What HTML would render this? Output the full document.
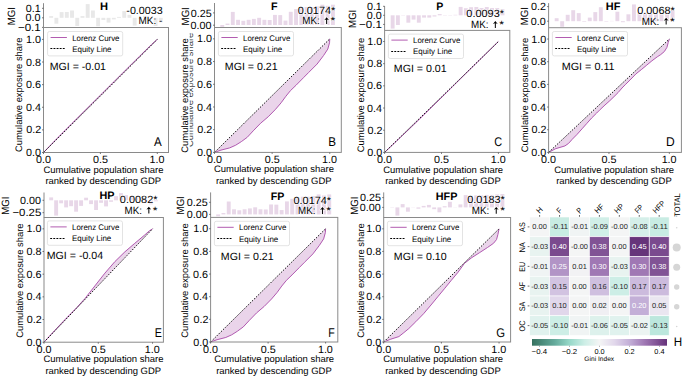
<!DOCTYPE html>
<html><head><meta charset="utf-8"><style>
html,body{margin:0;padding:0;background:#fff;}
svg{display:block;}
text{font-family:"Liberation Sans", sans-serif;text-rendering:geometricPrecision;}
</style></head><body>
<svg width="685" height="377" viewBox="0 0 685 377">
<rect width="685" height="377" fill="#fff"/>
<rect x="49.20" y="16.10" width="3.90" height="1.70" fill="#e8e8e8"/>
<rect x="54.42" y="17.80" width="3.90" height="5.90" fill="#e8e8e8"/>
<rect x="59.64" y="12.10" width="3.90" height="5.70" fill="#e8e8e8"/>
<rect x="64.86" y="12.00" width="3.90" height="5.80" fill="#e8e8e8"/>
<rect x="70.08" y="10.50" width="3.90" height="7.30" fill="#e8e8e8"/>
<rect x="75.30" y="17.80" width="3.90" height="8.20" fill="#e8e8e8"/>
<rect x="80.52" y="16.10" width="3.90" height="1.70" fill="#e8e8e8"/>
<rect x="85.74" y="4.10" width="3.90" height="13.70" fill="#e8e8e8"/>
<rect x="90.96" y="10.50" width="3.90" height="7.30" fill="#e8e8e8"/>
<rect x="96.18" y="17.80" width="3.90" height="8.50" fill="#e8e8e8"/>
<rect x="101.40" y="17.80" width="3.90" height="2.20" fill="#e8e8e8"/>
<rect x="106.62" y="17.80" width="3.90" height="4.80" fill="#e8e8e8"/>
<rect x="111.84" y="17.80" width="3.90" height="1.60" fill="#e8e8e8"/>
<rect x="117.06" y="16.90" width="3.90" height="0.90" fill="#e8e8e8"/>
<rect x="122.28" y="11.10" width="3.90" height="6.70" fill="#e8e8e8"/>
<rect x="127.50" y="14.80" width="3.90" height="3.00" fill="#e8e8e8"/>
<rect x="132.72" y="17.80" width="3.90" height="7.80" fill="#e8e8e8"/>
<rect x="137.94" y="17.80" width="3.90" height="1.00" fill="#e8e8e8"/>
<rect x="143.16" y="15.80" width="3.90" height="2.00" fill="#e8e8e8"/>
<rect x="148.38" y="17.80" width="3.90" height="1.00" fill="#e8e8e8"/>
<rect x="153.60" y="17.80" width="3.90" height="8.20" fill="#e8e8e8"/>
<rect x="158.82" y="17.80" width="3.90" height="4.50" fill="#e8e8e8"/>
<line x1="43.50" y1="3.20" x2="43.50" y2="27.50" stroke="#8a8a8a" stroke-width="1.0"/>
<line x1="42.00" y1="8.30" x2="43.50" y2="8.30" stroke="#555" stroke-width="0.8"/>
<text x="25.82" y="11.90" font-size="10.53" fill="#000" textLength="14.95" lengthAdjust="spacingAndGlyphs">0.1</text>
<line x1="42.00" y1="17.80" x2="43.50" y2="17.80" stroke="#555" stroke-width="0.8"/>
<text x="25.58" y="21.40" font-size="10.53" fill="#000" textLength="14.95" lengthAdjust="spacingAndGlyphs">0.0</text>
<line x1="42.00" y1="27.40" x2="43.50" y2="27.40" stroke="#555" stroke-width="0.8"/>
<text x="17.94" y="31.00" font-size="10.53" fill="#000" textLength="22.83" lengthAdjust="spacingAndGlyphs">−0.1</text>
<path d="M43.50,152.50 L54.88,140.62 L71.95,123.43 L100.40,95.16 L128.85,66.88 L151.61,44.38 L157.30,39.40 L43.50,152.50 Z" fill="#800080" fill-opacity="0.17" stroke="none"/>
<path d="M43.50,152.50 L54.88,140.62 L71.95,123.43 L100.40,95.16 L128.85,66.88 L151.61,44.38 L157.30,39.40" fill="none" stroke="#a848a8" stroke-width="0.9" stroke-linejoin="round"/>
<line x1="43.50" y1="152.50" x2="157.30" y2="39.40" stroke="#000" stroke-width="0.9" stroke-dasharray="1.5 1.4"/>
<rect x="43.50" y="27.50" width="125.00" height="125.00" fill="none" stroke="#8a8a8a" stroke-width="1.0"/>
<line x1="42.00" y1="152.50" x2="43.50" y2="152.50" stroke="#555" stroke-width="0.8"/>
<text x="26.08" y="156.10" font-size="10.53" fill="#000" textLength="14.95" lengthAdjust="spacingAndGlyphs">0.0</text>
<line x1="42.00" y1="129.88" x2="43.50" y2="129.88" stroke="#555" stroke-width="0.8"/>
<text x="26.39" y="133.48" font-size="10.53" fill="#000" textLength="14.95" lengthAdjust="spacingAndGlyphs">0.2</text>
<line x1="42.00" y1="107.26" x2="43.50" y2="107.26" stroke="#555" stroke-width="0.8"/>
<text x="25.98" y="110.86" font-size="10.53" fill="#000" textLength="14.95" lengthAdjust="spacingAndGlyphs">0.4</text>
<line x1="42.00" y1="84.64" x2="43.50" y2="84.64" stroke="#555" stroke-width="0.8"/>
<text x="26.04" y="88.24" font-size="10.53" fill="#000" textLength="14.95" lengthAdjust="spacingAndGlyphs">0.6</text>
<line x1="42.00" y1="62.02" x2="43.50" y2="62.02" stroke="#555" stroke-width="0.8"/>
<text x="26.09" y="65.62" font-size="10.53" fill="#000" textLength="14.95" lengthAdjust="spacingAndGlyphs">0.8</text>
<line x1="42.00" y1="39.40" x2="43.50" y2="39.40" stroke="#555" stroke-width="0.8"/>
<text x="26.08" y="43.00" font-size="10.53" fill="#000" textLength="14.95" lengthAdjust="spacingAndGlyphs">1.0</text>
<line x1="43.50" y1="152.50" x2="43.50" y2="154.00" stroke="#555" stroke-width="0.8"/>
<text x="36.03" y="163.20" font-size="10.53" fill="#000" textLength="14.95" lengthAdjust="spacingAndGlyphs">0.0</text>
<line x1="100.40" y1="152.50" x2="100.40" y2="154.00" stroke="#555" stroke-width="0.8"/>
<text x="93.03" y="163.20" font-size="10.53" fill="#000" textLength="14.95" lengthAdjust="spacingAndGlyphs">0.5</text>
<line x1="157.30" y1="152.50" x2="157.30" y2="154.00" stroke="#555" stroke-width="0.8"/>
<text x="149.62" y="163.20" font-size="10.53" fill="#000" textLength="14.95" lengthAdjust="spacingAndGlyphs">1.0</text>
<text x="43.53" y="172.50" font-size="9.41" fill="#000" textLength="119.91" lengthAdjust="spacingAndGlyphs">Cumulative population share</text>
<text x="45.48" y="184.10" font-size="9.41" fill="#000" textLength="115.56" lengthAdjust="spacingAndGlyphs">ranked by descending GDP</text>
<text transform="translate(22.40,151.50) rotate(-90)" x="-0.47" y="0" font-size="9.41" fill="#000" textLength="114.41" lengthAdjust="spacingAndGlyphs">Cumulative exposure share</text>
<rect x="47.60" y="31.50" width="75.1" height="24.4" rx="1.8" fill="#fff" fill-opacity="0.85" stroke="#dcdcdc" stroke-width="0.8"/>
<line x1="50.60" y1="37.50" x2="66.90" y2="37.50" stroke="#b25cb0" stroke-width="1.0"/>
<line x1="50.40" y1="48.50" x2="65.60" y2="48.50" stroke="#000" stroke-width="1.0" stroke-dasharray="1.9 1.2"/>
<text x="72.20" y="40.60" font-size="8.18" fill="#000" textLength="47.28" lengthAdjust="spacingAndGlyphs">Lorenz Curve</text>
<text x="72.21" y="51.70" font-size="8.18" fill="#000" textLength="39.27" lengthAdjust="spacingAndGlyphs">Equity Line</text>
<text x="49.68" y="70.00" font-size="10.53" fill="#000" textLength="56.34" lengthAdjust="spacingAndGlyphs">MGI = -0.01</text>
<text x="153.96" y="145.70" font-size="12.66" fill="#000" textLength="7.73" lengthAdjust="spacingAndGlyphs">A</text>
<text x="100.03" y="9.70" font-size="10.75" font-weight="bold" fill="#000" textLength="8.03" lengthAdjust="spacingAndGlyphs">H</text>
<text x="126.37" y="13.70" font-size="10.53" fill="#000" textLength="36.28" lengthAdjust="spacingAndGlyphs" stroke="#fff" stroke-opacity="0.7" stroke-width="1.6" stroke-linejoin="round" paint-order="stroke">-0.0033</text>
<text x="138.54" y="24.10" font-size="10.53" fill="#000" textLength="23.82" lengthAdjust="spacingAndGlyphs" stroke="#fff" stroke-opacity="0.7" stroke-width="1.6" stroke-linejoin="round" paint-order="stroke">MK: -</text>
<text transform="translate(15.40,16.20) rotate(-90)" x="-9.08" y="0" font-size="10.53" fill="#000" textLength="18.17" lengthAdjust="spacingAndGlyphs">MGI</text>
<rect x="220.30" y="25.00" width="3.90" height="1.90" fill="#e8d7e8"/>
<rect x="225.57" y="23.60" width="3.90" height="1.40" fill="#e8d7e8"/>
<rect x="230.84" y="11.90" width="3.90" height="13.10" fill="#e8d7e8"/>
<rect x="236.11" y="19.80" width="3.90" height="5.20" fill="#e8d7e8"/>
<rect x="241.38" y="20.80" width="3.90" height="4.20" fill="#e8d7e8"/>
<rect x="246.65" y="19.80" width="3.90" height="5.20" fill="#e8d7e8"/>
<rect x="251.92" y="18.90" width="3.90" height="6.10" fill="#e8d7e8"/>
<rect x="257.19" y="17.80" width="3.90" height="7.20" fill="#e8d7e8"/>
<rect x="262.46" y="19.80" width="3.90" height="5.20" fill="#e8d7e8"/>
<rect x="267.73" y="20.00" width="3.90" height="5.00" fill="#e8d7e8"/>
<rect x="273.00" y="14.90" width="3.90" height="10.10" fill="#e8d7e8"/>
<rect x="278.27" y="15.10" width="3.90" height="9.90" fill="#e8d7e8"/>
<rect x="283.54" y="20.60" width="3.90" height="4.40" fill="#e8d7e8"/>
<rect x="288.81" y="11.80" width="3.90" height="13.20" fill="#e8d7e8"/>
<rect x="294.08" y="9.10" width="3.90" height="15.90" fill="#e8d7e8"/>
<rect x="299.35" y="7.50" width="3.90" height="17.50" fill="#e8d7e8"/>
<rect x="304.62" y="7.00" width="3.90" height="18.00" fill="#e8d7e8"/>
<rect x="309.89" y="7.00" width="3.90" height="18.00" fill="#e8d7e8"/>
<rect x="315.16" y="6.30" width="3.90" height="18.70" fill="#e8d7e8"/>
<rect x="320.43" y="4.70" width="3.90" height="20.30" fill="#e8d7e8"/>
<rect x="325.70" y="5.80" width="3.90" height="19.20" fill="#e8d7e8"/>
<rect x="330.97" y="4.70" width="3.90" height="20.30" fill="#e8d7e8"/>
<line x1="214.50" y1="3.00" x2="214.50" y2="27.50" stroke="#8a8a8a" stroke-width="1.0"/>
<line x1="213.00" y1="12.90" x2="214.50" y2="12.90" stroke="#555" stroke-width="0.8"/>
<text x="190.79" y="16.50" font-size="10.53" fill="#000" textLength="20.93" lengthAdjust="spacingAndGlyphs">0.25</text>
<line x1="213.00" y1="25.20" x2="214.50" y2="25.20" stroke="#555" stroke-width="0.8"/>
<text x="190.59" y="28.80" font-size="10.53" fill="#000" textLength="20.93" lengthAdjust="spacingAndGlyphs">0.00</text>
<path d="M214.50,152.40 L220.96,150.13 L229.72,147.86 L235.59,145.25 L241.36,141.61 L247.24,137.30 L253.23,130.83 L260.61,123.22 L268.22,116.75 L275.59,109.25 L281.13,102.78 L285.85,96.31 L290.46,90.63 L296.11,85.18 L303.49,77.69 L308.56,72.58 L317.09,64.06 L323.55,55.55 L327.81,49.07 L329.54,42.72 L329.77,38.85 L214.50,152.40 Z" fill="#800080" fill-opacity="0.17" stroke="none"/>
<path d="M214.50,152.40 L220.96,150.13 L229.72,147.86 L235.59,145.25 L241.36,141.61 L247.24,137.30 L253.23,130.83 L260.61,123.22 L268.22,116.75 L275.59,109.25 L281.13,102.78 L285.85,96.31 L290.46,90.63 L296.11,85.18 L303.49,77.69 L308.56,72.58 L317.09,64.06 L323.55,55.55 L327.81,49.07 L329.54,42.72 L329.77,38.85" fill="none" stroke="#a848a8" stroke-width="0.9" stroke-linejoin="round"/>
<line x1="214.50" y1="152.40" x2="329.77" y2="38.85" stroke="#000" stroke-width="0.9" stroke-dasharray="1.5 1.4"/>
<rect x="214.50" y="27.50" width="126.80" height="124.90" fill="none" stroke="#8a8a8a" stroke-width="1.0"/>
<line x1="213.00" y1="152.40" x2="214.50" y2="152.40" stroke="#555" stroke-width="0.8"/>
<text x="197.08" y="156.00" font-size="10.53" fill="#000" textLength="14.95" lengthAdjust="spacingAndGlyphs">0.0</text>
<line x1="213.00" y1="129.69" x2="214.50" y2="129.69" stroke="#555" stroke-width="0.8"/>
<text x="197.39" y="133.29" font-size="10.53" fill="#000" textLength="14.95" lengthAdjust="spacingAndGlyphs">0.2</text>
<line x1="213.00" y1="106.98" x2="214.50" y2="106.98" stroke="#555" stroke-width="0.8"/>
<text x="196.98" y="110.58" font-size="10.53" fill="#000" textLength="14.95" lengthAdjust="spacingAndGlyphs">0.4</text>
<line x1="213.00" y1="84.27" x2="214.50" y2="84.27" stroke="#555" stroke-width="0.8"/>
<text x="197.04" y="87.87" font-size="10.53" fill="#000" textLength="14.95" lengthAdjust="spacingAndGlyphs">0.6</text>
<line x1="213.00" y1="61.56" x2="214.50" y2="61.56" stroke="#555" stroke-width="0.8"/>
<text x="197.09" y="65.16" font-size="10.53" fill="#000" textLength="14.95" lengthAdjust="spacingAndGlyphs">0.8</text>
<line x1="213.00" y1="38.85" x2="214.50" y2="38.85" stroke="#555" stroke-width="0.8"/>
<text x="197.08" y="42.45" font-size="10.53" fill="#000" textLength="14.95" lengthAdjust="spacingAndGlyphs">1.0</text>
<line x1="214.50" y1="152.40" x2="214.50" y2="153.90" stroke="#555" stroke-width="0.8"/>
<text x="207.03" y="163.10" font-size="10.53" fill="#000" textLength="14.95" lengthAdjust="spacingAndGlyphs">0.0</text>
<line x1="272.14" y1="152.40" x2="272.14" y2="153.90" stroke="#555" stroke-width="0.8"/>
<text x="264.76" y="163.10" font-size="10.53" fill="#000" textLength="14.95" lengthAdjust="spacingAndGlyphs">0.5</text>
<line x1="329.77" y1="152.40" x2="329.77" y2="153.90" stroke="#555" stroke-width="0.8"/>
<text x="322.09" y="163.10" font-size="10.53" fill="#000" textLength="14.95" lengthAdjust="spacingAndGlyphs">1.0</text>
<text x="214.03" y="172.40" font-size="9.41" fill="#000" textLength="119.91" lengthAdjust="spacingAndGlyphs">Cumulative population share</text>
<text x="215.98" y="184.00" font-size="9.41" fill="#000" textLength="115.56" lengthAdjust="spacingAndGlyphs">ranked by descending GDP</text>
<text transform="translate(188.10,152.20) rotate(-90)" x="-0.47" y="0" font-size="9.41" fill="#000" textLength="114.41" lengthAdjust="spacingAndGlyphs">Cumulative exposure share</text>
<clipPath id="ghc"><rect x="189.7" y="0" width="8" height="377"/></clipPath>
<g clip-path="url(#ghc)">
<text transform="translate(193.40,146.60) rotate(-90)" x="-0.47" y="0" font-size="9.41" fill="#444" textLength="114.41" lengthAdjust="spacingAndGlyphs">Cumulative exposure share</text>
</g>
<rect x="218.40" y="31.50" width="75.1" height="24.4" rx="1.8" fill="#fff" fill-opacity="0.85" stroke="#dcdcdc" stroke-width="0.8"/>
<line x1="221.40" y1="37.50" x2="237.70" y2="37.50" stroke="#b25cb0" stroke-width="1.0"/>
<line x1="221.20" y1="48.50" x2="236.40" y2="48.50" stroke="#000" stroke-width="1.0" stroke-dasharray="1.9 1.2"/>
<text x="243.00" y="40.60" font-size="8.18" fill="#000" textLength="47.28" lengthAdjust="spacingAndGlyphs">Lorenz Curve</text>
<text x="243.01" y="51.70" font-size="8.18" fill="#000" textLength="39.27" lengthAdjust="spacingAndGlyphs">Equity Line</text>
<text x="224.78" y="69.80" font-size="10.53" fill="#000" textLength="52.95" lengthAdjust="spacingAndGlyphs">MGI = 0.21</text>
<text x="328.15" y="145.70" font-size="12.66" fill="#000" textLength="7.75" lengthAdjust="spacingAndGlyphs">B</text>
<text x="271.08" y="9.70" font-size="10.75" font-weight="bold" fill="#000" textLength="6.56" lengthAdjust="spacingAndGlyphs">F</text>
<text x="297.69" y="13.70" font-size="10.53" fill="#000" textLength="37.59" lengthAdjust="spacingAndGlyphs" stroke="#fff" stroke-opacity="0.7" stroke-width="1.6" stroke-linejoin="round" paint-order="stroke">0.0174*</text>
<text x="302.27" y="24.10" font-size="10.53" fill="#000" textLength="17.44" lengthAdjust="spacingAndGlyphs" stroke="#fff" stroke-opacity="0.7" stroke-width="1.6" stroke-linejoin="round" paint-order="stroke">MK:</text>
<text x="330.58" y="24.10" font-size="10.53" fill="#000" textLength="4.70" lengthAdjust="spacingAndGlyphs" stroke="#fff" stroke-opacity="0.7" stroke-width="1.6" stroke-linejoin="round" paint-order="stroke">*</text>
<path d="M324.24,20.20 L326.64,17.30 L329.04,20.20 L327.14,19.50 L327.14,24.10 L326.14,24.10 L326.14,19.50 Z" fill="#000" stroke="#fff" stroke-opacity="0.7" stroke-width="1.6" stroke-linejoin="round" paint-order="stroke"/>
<text transform="translate(188.60,16.30) rotate(-90)" x="-9.08" y="0" font-size="10.53" fill="#000" textLength="18.17" lengthAdjust="spacingAndGlyphs">MGI</text>
<rect x="390.70" y="15.30" width="3.90" height="13.30" fill="#e8d7e8"/>
<rect x="395.93" y="15.30" width="3.90" height="9.70" fill="#e8d7e8"/>
<rect x="401.16" y="15.30" width="3.90" height="0.30" fill="#e8d7e8"/>
<rect x="406.39" y="15.30" width="3.90" height="7.40" fill="#e8d7e8"/>
<rect x="411.62" y="15.30" width="3.90" height="4.30" fill="#e8d7e8"/>
<rect x="416.85" y="15.30" width="3.90" height="7.40" fill="#e8d7e8"/>
<rect x="422.08" y="15.30" width="3.90" height="2.30" fill="#e8d7e8"/>
<rect x="427.31" y="15.30" width="3.90" height="2.30" fill="#e8d7e8"/>
<rect x="432.54" y="15.30" width="3.90" height="1.20" fill="#e8d7e8"/>
<rect x="437.77" y="14.10" width="3.90" height="1.20" fill="#e8d7e8"/>
<rect x="443.00" y="15.00" width="3.90" height="0.30" fill="#e8d7e8"/>
<rect x="448.23" y="15.00" width="3.90" height="0.30" fill="#e8d7e8"/>
<rect x="453.46" y="14.80" width="3.90" height="0.50" fill="#e8d7e8"/>
<rect x="458.69" y="6.90" width="3.90" height="8.40" fill="#e8d7e8"/>
<rect x="463.92" y="8.20" width="3.90" height="7.10" fill="#e8d7e8"/>
<rect x="469.15" y="7.20" width="3.90" height="8.10" fill="#e8d7e8"/>
<rect x="474.38" y="7.00" width="3.90" height="8.30" fill="#e8d7e8"/>
<rect x="479.61" y="8.00" width="3.90" height="7.30" fill="#e8d7e8"/>
<rect x="484.84" y="7.00" width="3.90" height="8.30" fill="#e8d7e8"/>
<rect x="490.07" y="8.00" width="3.90" height="7.30" fill="#e8d7e8"/>
<rect x="495.30" y="8.00" width="3.90" height="7.30" fill="#e8d7e8"/>
<rect x="500.53" y="9.20" width="3.90" height="6.10" fill="#e8d7e8"/>
<line x1="384.60" y1="6.10" x2="384.60" y2="30.40" stroke="#8a8a8a" stroke-width="1.0"/>
<line x1="383.10" y1="6.30" x2="384.60" y2="6.30" stroke="#555" stroke-width="0.8"/>
<text x="366.92" y="9.90" font-size="10.53" fill="#000" textLength="14.95" lengthAdjust="spacingAndGlyphs">0.1</text>
<line x1="383.10" y1="15.30" x2="384.60" y2="15.30" stroke="#555" stroke-width="0.8"/>
<text x="366.68" y="18.90" font-size="10.53" fill="#000" textLength="14.95" lengthAdjust="spacingAndGlyphs">0.0</text>
<line x1="383.10" y1="24.40" x2="384.60" y2="24.40" stroke="#555" stroke-width="0.8"/>
<text x="359.04" y="28.00" font-size="10.53" fill="#000" textLength="22.83" lengthAdjust="spacingAndGlyphs">−0.1</text>
<path d="M384.60,152.40 L401.67,136.21 L418.75,119.90 L435.82,103.16 L452.89,86.30 L469.96,69.44 L498.42,41.49 L384.60,152.40 Z" fill="#800080" fill-opacity="0.17" stroke="none"/>
<path d="M384.60,152.40 L401.67,136.21 L418.75,119.90 L435.82,103.16 L452.89,86.30 L469.96,69.44 L498.42,41.49" fill="none" stroke="#a848a8" stroke-width="0.9" stroke-linejoin="round"/>
<line x1="384.60" y1="152.40" x2="498.42" y2="41.49" stroke="#000" stroke-width="0.9" stroke-dasharray="1.5 1.4"/>
<rect x="384.60" y="30.40" width="125.20" height="122.00" fill="none" stroke="#8a8a8a" stroke-width="1.0"/>
<line x1="383.10" y1="152.40" x2="384.60" y2="152.40" stroke="#555" stroke-width="0.8"/>
<text x="367.18" y="156.00" font-size="10.53" fill="#000" textLength="14.95" lengthAdjust="spacingAndGlyphs">0.0</text>
<line x1="383.10" y1="130.22" x2="384.60" y2="130.22" stroke="#555" stroke-width="0.8"/>
<text x="367.49" y="133.82" font-size="10.53" fill="#000" textLength="14.95" lengthAdjust="spacingAndGlyphs">0.2</text>
<line x1="383.10" y1="108.04" x2="384.60" y2="108.04" stroke="#555" stroke-width="0.8"/>
<text x="367.08" y="111.64" font-size="10.53" fill="#000" textLength="14.95" lengthAdjust="spacingAndGlyphs">0.4</text>
<line x1="383.10" y1="85.85" x2="384.60" y2="85.85" stroke="#555" stroke-width="0.8"/>
<text x="367.14" y="89.45" font-size="10.53" fill="#000" textLength="14.95" lengthAdjust="spacingAndGlyphs">0.6</text>
<line x1="383.10" y1="63.67" x2="384.60" y2="63.67" stroke="#555" stroke-width="0.8"/>
<text x="367.19" y="67.27" font-size="10.53" fill="#000" textLength="14.95" lengthAdjust="spacingAndGlyphs">0.8</text>
<line x1="383.10" y1="41.49" x2="384.60" y2="41.49" stroke="#555" stroke-width="0.8"/>
<text x="367.18" y="45.09" font-size="10.53" fill="#000" textLength="14.95" lengthAdjust="spacingAndGlyphs">1.0</text>
<line x1="384.60" y1="152.40" x2="384.60" y2="153.90" stroke="#555" stroke-width="0.8"/>
<text x="377.13" y="163.10" font-size="10.53" fill="#000" textLength="14.95" lengthAdjust="spacingAndGlyphs">0.0</text>
<line x1="441.51" y1="152.40" x2="441.51" y2="153.90" stroke="#555" stroke-width="0.8"/>
<text x="434.14" y="163.10" font-size="10.53" fill="#000" textLength="14.95" lengthAdjust="spacingAndGlyphs">0.5</text>
<line x1="498.42" y1="152.40" x2="498.42" y2="153.90" stroke="#555" stroke-width="0.8"/>
<text x="490.74" y="163.10" font-size="10.53" fill="#000" textLength="14.95" lengthAdjust="spacingAndGlyphs">1.0</text>
<text x="383.23" y="172.50" font-size="9.41" fill="#000" textLength="119.91" lengthAdjust="spacingAndGlyphs">Cumulative population share</text>
<text x="385.18" y="184.10" font-size="9.41" fill="#000" textLength="115.56" lengthAdjust="spacingAndGlyphs">ranked by descending GDP</text>
<text transform="translate(364.40,151.70) rotate(-90)" x="-0.47" y="0" font-size="9.41" fill="#000" textLength="114.41" lengthAdjust="spacingAndGlyphs">Cumulative exposure share</text>
<rect x="388.40" y="34.10" width="75.1" height="24.4" rx="1.8" fill="#fff" fill-opacity="0.85" stroke="#dcdcdc" stroke-width="0.8"/>
<line x1="391.40" y1="40.10" x2="407.70" y2="40.10" stroke="#b25cb0" stroke-width="1.0"/>
<line x1="391.20" y1="51.50" x2="406.40" y2="51.50" stroke="#000" stroke-width="1.0" stroke-dasharray="1.9 1.2"/>
<text x="413.00" y="43.20" font-size="8.18" fill="#000" textLength="47.28" lengthAdjust="spacingAndGlyphs">Lorenz Curve</text>
<text x="413.01" y="54.30" font-size="8.18" fill="#000" textLength="39.27" lengthAdjust="spacingAndGlyphs">Equity Line</text>
<text x="393.78" y="71.80" font-size="10.53" fill="#000" textLength="52.95" lengthAdjust="spacingAndGlyphs">MGI = 0.01</text>
<text x="494.22" y="145.80" font-size="12.66" fill="#000" textLength="7.89" lengthAdjust="spacingAndGlyphs">C</text>
<text x="436.24" y="9.70" font-size="10.75" font-weight="bold" fill="#000" textLength="7.04" lengthAdjust="spacingAndGlyphs">P</text>
<text x="466.39" y="16.50" font-size="10.53" fill="#000" textLength="37.59" lengthAdjust="spacingAndGlyphs" stroke="#fff" stroke-opacity="0.7" stroke-width="1.6" stroke-linejoin="round" paint-order="stroke">0.0093*</text>
<text x="470.97" y="27.90" font-size="10.53" fill="#000" textLength="17.44" lengthAdjust="spacingAndGlyphs" stroke="#fff" stroke-opacity="0.7" stroke-width="1.6" stroke-linejoin="round" paint-order="stroke">MK:</text>
<text x="499.28" y="27.90" font-size="10.53" fill="#000" textLength="4.70" lengthAdjust="spacingAndGlyphs" stroke="#fff" stroke-opacity="0.7" stroke-width="1.6" stroke-linejoin="round" paint-order="stroke">*</text>
<path d="M492.94,24.00 L495.34,21.10 L497.74,24.00 L495.84,23.30 L495.84,27.90 L494.84,27.90 L494.84,23.30 Z" fill="#000" stroke="#fff" stroke-opacity="0.7" stroke-width="1.6" stroke-linejoin="round" paint-order="stroke"/>
<text transform="translate(356.20,18.80) rotate(-90)" x="-9.08" y="0" font-size="10.53" fill="#000" textLength="18.17" lengthAdjust="spacingAndGlyphs">MGI</text>
<rect x="554.70" y="18.20" width="3.90" height="3.00" fill="#e8d7e8"/>
<rect x="560.22" y="21.20" width="3.90" height="5.60" fill="#e8d7e8"/>
<rect x="565.74" y="14.80" width="3.90" height="6.40" fill="#e8d7e8"/>
<rect x="571.26" y="10.20" width="3.90" height="11.00" fill="#e8d7e8"/>
<rect x="576.78" y="13.10" width="3.90" height="8.10" fill="#e8d7e8"/>
<rect x="582.30" y="21.20" width="3.90" height="0.60" fill="#e8d7e8"/>
<rect x="587.82" y="17.60" width="3.90" height="3.60" fill="#e8d7e8"/>
<rect x="593.34" y="12.10" width="3.90" height="9.10" fill="#e8d7e8"/>
<rect x="598.86" y="7.20" width="3.90" height="14.00" fill="#e8d7e8"/>
<rect x="604.38" y="21.20" width="3.90" height="0.50" fill="#e8d7e8"/>
<rect x="609.90" y="20.90" width="3.90" height="0.30" fill="#e8d7e8"/>
<rect x="615.42" y="11.70" width="3.90" height="9.50" fill="#e8d7e8"/>
<rect x="620.94" y="21.20" width="3.90" height="1.00" fill="#e8d7e8"/>
<rect x="626.46" y="14.30" width="3.90" height="6.90" fill="#e8d7e8"/>
<rect x="631.98" y="4.40" width="3.90" height="16.80" fill="#e8d7e8"/>
<rect x="637.50" y="12.20" width="3.90" height="9.00" fill="#e8d7e8"/>
<rect x="643.02" y="12.70" width="3.90" height="8.50" fill="#e8d7e8"/>
<rect x="648.54" y="12.70" width="3.90" height="8.50" fill="#e8d7e8"/>
<rect x="654.06" y="13.20" width="3.90" height="8.00" fill="#e8d7e8"/>
<rect x="659.58" y="12.70" width="3.90" height="8.50" fill="#e8d7e8"/>
<rect x="665.10" y="12.20" width="3.90" height="9.00" fill="#e8d7e8"/>
<rect x="670.62" y="9.80" width="3.90" height="11.40" fill="#e8d7e8"/>
<line x1="548.60" y1="3.10" x2="548.60" y2="27.70" stroke="#8a8a8a" stroke-width="1.0"/>
<line x1="547.10" y1="6.60" x2="548.60" y2="6.60" stroke="#555" stroke-width="0.8"/>
<text x="530.99" y="10.20" font-size="10.53" fill="#000" textLength="14.95" lengthAdjust="spacingAndGlyphs">0.2</text>
<line x1="547.10" y1="21.20" x2="548.60" y2="21.20" stroke="#555" stroke-width="0.8"/>
<text x="530.68" y="24.80" font-size="10.53" fill="#000" textLength="14.95" lengthAdjust="spacingAndGlyphs">0.0</text>
<path d="M548.60,152.40 L555.72,148.66 L559.95,147.41 L564.90,145.94 L568.52,143.44 L572.26,139.25 L577.09,134.38 L582.04,128.82 L586.87,123.38 L591.70,117.94 L596.65,113.06 L600.15,109.55 L604.98,105.01 L609.81,100.71 L613.91,96.74 L618.14,92.54 L622.00,88.01 L625.26,84.72 L629.97,80.07 L636.01,73.84 L641.32,69.64 L646.75,65.11 L651.94,60.80 L657.25,56.83 L660.63,54.68 L664.38,51.51 L666.91,47.43 L668.24,42.44 L669.33,39.04 L548.60,152.40 Z" fill="#800080" fill-opacity="0.17" stroke="none"/>
<path d="M548.60,152.40 L555.72,148.66 L559.95,147.41 L564.90,145.94 L568.52,143.44 L572.26,139.25 L577.09,134.38 L582.04,128.82 L586.87,123.38 L591.70,117.94 L596.65,113.06 L600.15,109.55 L604.98,105.01 L609.81,100.71 L613.91,96.74 L618.14,92.54 L622.00,88.01 L625.26,84.72 L629.97,80.07 L636.01,73.84 L641.32,69.64 L646.75,65.11 L651.94,60.80 L657.25,56.83 L660.63,54.68 L664.38,51.51 L666.91,47.43 L668.24,42.44 L669.33,39.04" fill="none" stroke="#a848a8" stroke-width="0.9" stroke-linejoin="round"/>
<line x1="548.60" y1="152.40" x2="669.33" y2="39.04" stroke="#000" stroke-width="0.9" stroke-dasharray="1.5 1.4"/>
<rect x="548.60" y="27.70" width="132.80" height="124.70" fill="none" stroke="#8a8a8a" stroke-width="1.0"/>
<line x1="547.10" y1="152.40" x2="548.60" y2="152.40" stroke="#555" stroke-width="0.8"/>
<text x="531.18" y="156.00" font-size="10.53" fill="#000" textLength="14.95" lengthAdjust="spacingAndGlyphs">0.0</text>
<line x1="547.10" y1="129.73" x2="548.60" y2="129.73" stroke="#555" stroke-width="0.8"/>
<text x="531.49" y="133.33" font-size="10.53" fill="#000" textLength="14.95" lengthAdjust="spacingAndGlyphs">0.2</text>
<line x1="547.10" y1="107.05" x2="548.60" y2="107.05" stroke="#555" stroke-width="0.8"/>
<text x="531.08" y="110.65" font-size="10.53" fill="#000" textLength="14.95" lengthAdjust="spacingAndGlyphs">0.4</text>
<line x1="547.10" y1="84.38" x2="548.60" y2="84.38" stroke="#555" stroke-width="0.8"/>
<text x="531.14" y="87.98" font-size="10.53" fill="#000" textLength="14.95" lengthAdjust="spacingAndGlyphs">0.6</text>
<line x1="547.10" y1="61.71" x2="548.60" y2="61.71" stroke="#555" stroke-width="0.8"/>
<text x="531.19" y="65.31" font-size="10.53" fill="#000" textLength="14.95" lengthAdjust="spacingAndGlyphs">0.8</text>
<line x1="547.10" y1="39.04" x2="548.60" y2="39.04" stroke="#555" stroke-width="0.8"/>
<text x="531.18" y="42.64" font-size="10.53" fill="#000" textLength="14.95" lengthAdjust="spacingAndGlyphs">1.0</text>
<line x1="548.60" y1="152.40" x2="548.60" y2="153.90" stroke="#555" stroke-width="0.8"/>
<text x="541.13" y="163.10" font-size="10.53" fill="#000" textLength="14.95" lengthAdjust="spacingAndGlyphs">0.0</text>
<line x1="608.96" y1="152.40" x2="608.96" y2="153.90" stroke="#555" stroke-width="0.8"/>
<text x="601.59" y="163.10" font-size="10.53" fill="#000" textLength="14.95" lengthAdjust="spacingAndGlyphs">0.5</text>
<line x1="669.33" y1="152.40" x2="669.33" y2="153.90" stroke="#555" stroke-width="0.8"/>
<text x="661.65" y="163.10" font-size="10.53" fill="#000" textLength="14.95" lengthAdjust="spacingAndGlyphs">1.0</text>
<text x="554.23" y="172.50" font-size="9.41" fill="#000" textLength="119.91" lengthAdjust="spacingAndGlyphs">Cumulative population share</text>
<text x="556.18" y="184.10" font-size="9.41" fill="#000" textLength="115.56" lengthAdjust="spacingAndGlyphs">ranked by descending GDP</text>
<text transform="translate(527.80,151.80) rotate(-90)" x="-0.47" y="0" font-size="9.41" fill="#000" textLength="114.41" lengthAdjust="spacingAndGlyphs">Cumulative exposure share</text>
<rect x="552.40" y="31.50" width="75.1" height="24.4" rx="1.8" fill="#fff" fill-opacity="0.85" stroke="#dcdcdc" stroke-width="0.8"/>
<line x1="555.40" y1="37.50" x2="571.70" y2="37.50" stroke="#b25cb0" stroke-width="1.0"/>
<line x1="555.20" y1="48.50" x2="570.40" y2="48.50" stroke="#000" stroke-width="1.0" stroke-dasharray="1.9 1.2"/>
<text x="577.00" y="40.60" font-size="8.18" fill="#000" textLength="47.28" lengthAdjust="spacingAndGlyphs">Lorenz Curve</text>
<text x="577.01" y="51.70" font-size="8.18" fill="#000" textLength="39.27" lengthAdjust="spacingAndGlyphs">Equity Line</text>
<text x="561.68" y="69.80" font-size="10.53" fill="#000" textLength="52.95" lengthAdjust="spacingAndGlyphs">MGI = 0.11</text>
<text x="665.97" y="145.80" font-size="12.66" fill="#000" textLength="8.70" lengthAdjust="spacingAndGlyphs">D</text>
<text x="605.87" y="9.90" font-size="10.75" font-weight="bold" fill="#000" textLength="14.59" lengthAdjust="spacingAndGlyphs">HF</text>
<text x="637.19" y="14.10" font-size="10.53" fill="#000" textLength="37.59" lengthAdjust="spacingAndGlyphs" stroke="#fff" stroke-opacity="0.7" stroke-width="1.6" stroke-linejoin="round" paint-order="stroke">0.0068*</text>
<text x="641.77" y="24.60" font-size="10.53" fill="#000" textLength="17.44" lengthAdjust="spacingAndGlyphs" stroke="#fff" stroke-opacity="0.7" stroke-width="1.6" stroke-linejoin="round" paint-order="stroke">MK:</text>
<text x="670.08" y="24.60" font-size="10.53" fill="#000" textLength="4.70" lengthAdjust="spacingAndGlyphs" stroke="#fff" stroke-opacity="0.7" stroke-width="1.6" stroke-linejoin="round" paint-order="stroke">*</text>
<path d="M663.74,20.70 L666.14,17.80 L668.54,20.70 L666.64,20.00 L666.64,24.60 L665.64,24.60 L665.64,20.00 Z" fill="#000" stroke="#fff" stroke-opacity="0.7" stroke-width="1.6" stroke-linejoin="round" paint-order="stroke"/>
<text transform="translate(528.20,16.20) rotate(-90)" x="-9.08" y="0" font-size="10.53" fill="#000" textLength="18.17" lengthAdjust="spacingAndGlyphs">MGI</text>
<rect x="49.20" y="197.40" width="3.90" height="2.90" fill="#e8d7e8"/>
<rect x="54.19" y="200.30" width="3.90" height="15.30" fill="#e8d7e8"/>
<rect x="59.18" y="200.30" width="3.90" height="3.00" fill="#e8d7e8"/>
<rect x="64.17" y="200.30" width="3.90" height="7.10" fill="#e8d7e8"/>
<rect x="69.16" y="200.30" width="3.90" height="5.90" fill="#e8d7e8"/>
<rect x="74.15" y="200.30" width="3.90" height="11.40" fill="#e8d7e8"/>
<rect x="79.14" y="200.30" width="3.90" height="5.60" fill="#e8d7e8"/>
<rect x="84.13" y="197.70" width="3.90" height="2.60" fill="#e8d7e8"/>
<rect x="89.12" y="200.30" width="3.90" height="3.80" fill="#e8d7e8"/>
<rect x="94.11" y="200.30" width="3.90" height="9.70" fill="#e8d7e8"/>
<rect x="99.10" y="200.30" width="3.90" height="2.50" fill="#e8d7e8"/>
<rect x="104.09" y="200.30" width="3.90" height="6.10" fill="#e8d7e8"/>
<rect x="109.08" y="200.30" width="3.90" height="1.50" fill="#e8d7e8"/>
<rect x="114.07" y="196.20" width="3.90" height="4.10" fill="#e8d7e8"/>
<rect x="119.06" y="193.10" width="3.90" height="7.20" fill="#e8d7e8"/>
<rect x="124.05" y="195.10" width="3.90" height="5.20" fill="#e8d7e8"/>
<rect x="129.04" y="196.30" width="3.90" height="4.00" fill="#e8d7e8"/>
<rect x="134.03" y="197.30" width="3.90" height="3.00" fill="#e8d7e8"/>
<rect x="139.02" y="197.30" width="3.90" height="3.00" fill="#e8d7e8"/>
<rect x="144.01" y="200.30" width="3.90" height="2.00" fill="#e8d7e8"/>
<rect x="149.00" y="200.30" width="3.90" height="4.00" fill="#e8d7e8"/>
<rect x="153.99" y="200.30" width="3.90" height="1.00" fill="#e8d7e8"/>
<line x1="44.00" y1="192.50" x2="44.00" y2="217.50" stroke="#8a8a8a" stroke-width="1.0"/>
<line x1="42.50" y1="200.30" x2="44.00" y2="200.30" stroke="#555" stroke-width="0.8"/>
<text x="20.09" y="203.90" font-size="10.53" fill="#000" textLength="20.93" lengthAdjust="spacingAndGlyphs">0.00</text>
<line x1="42.50" y1="212.70" x2="44.00" y2="212.70" stroke="#555" stroke-width="0.8"/>
<text x="12.42" y="216.30" font-size="10.53" fill="#000" textLength="28.81" lengthAdjust="spacingAndGlyphs">−0.25</text>
<path d="M44.00,342.20 L54.85,330.30 L65.71,318.85 L76.56,307.85 L85.03,298.44 L94.91,285.86 L104.89,273.16 L114.88,261.60 L124.87,251.85 L134.74,243.35 L144.73,234.96 L149.29,230.88 L152.55,228.84 L44.00,342.20 Z" fill="#800080" fill-opacity="0.17" stroke="none"/>
<path d="M44.00,342.20 L54.85,330.30 L65.71,318.85 L76.56,307.85 L85.03,298.44 L94.91,285.86 L104.89,273.16 L114.88,261.60 L124.87,251.85 L134.74,243.35 L144.73,234.96 L149.29,230.88 L152.55,228.84" fill="none" stroke="#a848a8" stroke-width="0.9" stroke-linejoin="round"/>
<line x1="44.00" y1="342.20" x2="152.55" y2="228.84" stroke="#000" stroke-width="0.9" stroke-dasharray="1.5 1.4"/>
<rect x="44.00" y="217.50" width="119.40" height="124.70" fill="none" stroke="#8a8a8a" stroke-width="1.0"/>
<line x1="42.50" y1="342.20" x2="44.00" y2="342.20" stroke="#555" stroke-width="0.8"/>
<text x="26.58" y="345.80" font-size="10.53" fill="#000" textLength="14.95" lengthAdjust="spacingAndGlyphs">0.0</text>
<line x1="42.50" y1="319.53" x2="44.00" y2="319.53" stroke="#555" stroke-width="0.8"/>
<text x="26.89" y="323.13" font-size="10.53" fill="#000" textLength="14.95" lengthAdjust="spacingAndGlyphs">0.2</text>
<line x1="42.50" y1="296.85" x2="44.00" y2="296.85" stroke="#555" stroke-width="0.8"/>
<text x="26.48" y="300.45" font-size="10.53" fill="#000" textLength="14.95" lengthAdjust="spacingAndGlyphs">0.4</text>
<line x1="42.50" y1="274.18" x2="44.00" y2="274.18" stroke="#555" stroke-width="0.8"/>
<text x="26.54" y="277.78" font-size="10.53" fill="#000" textLength="14.95" lengthAdjust="spacingAndGlyphs">0.6</text>
<line x1="42.50" y1="251.51" x2="44.00" y2="251.51" stroke="#555" stroke-width="0.8"/>
<text x="26.59" y="255.11" font-size="10.53" fill="#000" textLength="14.95" lengthAdjust="spacingAndGlyphs">0.8</text>
<line x1="42.50" y1="228.84" x2="44.00" y2="228.84" stroke="#555" stroke-width="0.8"/>
<text x="26.58" y="232.44" font-size="10.53" fill="#000" textLength="14.95" lengthAdjust="spacingAndGlyphs">1.0</text>
<line x1="44.00" y1="342.20" x2="44.00" y2="343.70" stroke="#555" stroke-width="0.8"/>
<text x="36.53" y="352.90" font-size="10.53" fill="#000" textLength="14.95" lengthAdjust="spacingAndGlyphs">0.0</text>
<line x1="98.27" y1="342.20" x2="98.27" y2="343.70" stroke="#555" stroke-width="0.8"/>
<text x="90.90" y="352.90" font-size="10.53" fill="#000" textLength="14.95" lengthAdjust="spacingAndGlyphs">0.5</text>
<line x1="152.55" y1="342.20" x2="152.55" y2="343.70" stroke="#555" stroke-width="0.8"/>
<text x="144.87" y="352.90" font-size="10.53" fill="#000" textLength="14.95" lengthAdjust="spacingAndGlyphs">1.0</text>
<text x="43.53" y="362.30" font-size="9.41" fill="#000" textLength="119.91" lengthAdjust="spacingAndGlyphs">Cumulative population share</text>
<text x="45.48" y="373.90" font-size="9.41" fill="#000" textLength="115.56" lengthAdjust="spacingAndGlyphs">ranked by descending GDP</text>
<text transform="translate(22.60,337.40) rotate(-90)" x="-0.47" y="0" font-size="9.41" fill="#000" textLength="114.41" lengthAdjust="spacingAndGlyphs">Cumulative exposure share</text>
<rect x="47.40" y="220.90" width="75.1" height="24.4" rx="1.8" fill="#fff" fill-opacity="0.85" stroke="#dcdcdc" stroke-width="0.8"/>
<line x1="50.40" y1="226.90" x2="66.70" y2="226.90" stroke="#b25cb0" stroke-width="1.0"/>
<line x1="50.20" y1="238.50" x2="65.40" y2="238.50" stroke="#000" stroke-width="1.0" stroke-dasharray="1.9 1.2"/>
<text x="72.00" y="230.00" font-size="8.18" fill="#000" textLength="47.28" lengthAdjust="spacingAndGlyphs">Lorenz Curve</text>
<text x="72.01" y="241.10" font-size="8.18" fill="#000" textLength="39.27" lengthAdjust="spacingAndGlyphs">Equity Line</text>
<text x="46.78" y="259.10" font-size="10.53" fill="#000" textLength="56.34" lengthAdjust="spacingAndGlyphs">MGI = -0.04</text>
<text x="154.68" y="336.50" font-size="12.66" fill="#000" textLength="7.14" lengthAdjust="spacingAndGlyphs">E</text>
<text x="99.42" y="199.20" font-size="10.75" font-weight="bold" fill="#000" textLength="15.07" lengthAdjust="spacingAndGlyphs">HP</text>
<text x="119.89" y="203.30" font-size="10.53" fill="#000" textLength="37.59" lengthAdjust="spacingAndGlyphs" stroke="#fff" stroke-opacity="0.7" stroke-width="1.6" stroke-linejoin="round" paint-order="stroke">0.0082*</text>
<text x="124.47" y="213.50" font-size="10.53" fill="#000" textLength="17.44" lengthAdjust="spacingAndGlyphs" stroke="#fff" stroke-opacity="0.7" stroke-width="1.6" stroke-linejoin="round" paint-order="stroke">MK:</text>
<text x="152.78" y="213.50" font-size="10.53" fill="#000" textLength="4.70" lengthAdjust="spacingAndGlyphs" stroke="#fff" stroke-opacity="0.7" stroke-width="1.6" stroke-linejoin="round" paint-order="stroke">*</text>
<path d="M146.44,209.60 L148.84,206.70 L151.24,209.60 L149.34,208.90 L149.34,213.50 L148.34,213.50 L148.34,208.90 Z" fill="#000" stroke="#fff" stroke-opacity="0.7" stroke-width="1.6" stroke-linejoin="round" paint-order="stroke"/>
<text transform="translate(9.30,205.70) rotate(-90)" x="-9.08" y="0" font-size="10.53" fill="#000" textLength="18.17" lengthAdjust="spacingAndGlyphs">MGI</text>
<rect x="216.20" y="214.40" width="3.90" height="1.87" fill="#e8d7e8"/>
<rect x="221.49" y="213.02" width="3.90" height="1.38" fill="#e8d7e8"/>
<rect x="226.78" y="201.51" width="3.90" height="12.89" fill="#e8d7e8"/>
<rect x="232.07" y="209.28" width="3.90" height="5.12" fill="#e8d7e8"/>
<rect x="237.36" y="210.27" width="3.90" height="4.13" fill="#e8d7e8"/>
<rect x="242.65" y="209.28" width="3.90" height="5.12" fill="#e8d7e8"/>
<rect x="247.94" y="208.40" width="3.90" height="6.00" fill="#e8d7e8"/>
<rect x="253.23" y="207.32" width="3.90" height="7.08" fill="#e8d7e8"/>
<rect x="258.52" y="209.28" width="3.90" height="5.12" fill="#e8d7e8"/>
<rect x="263.81" y="209.48" width="3.90" height="4.92" fill="#e8d7e8"/>
<rect x="269.10" y="204.46" width="3.90" height="9.94" fill="#e8d7e8"/>
<rect x="274.39" y="204.66" width="3.90" height="9.74" fill="#e8d7e8"/>
<rect x="279.68" y="210.07" width="3.90" height="4.33" fill="#e8d7e8"/>
<rect x="284.97" y="201.41" width="3.90" height="12.99" fill="#e8d7e8"/>
<rect x="290.26" y="198.76" width="3.90" height="15.64" fill="#e8d7e8"/>
<rect x="295.55" y="197.18" width="3.90" height="17.22" fill="#e8d7e8"/>
<rect x="300.84" y="196.69" width="3.90" height="17.71" fill="#e8d7e8"/>
<rect x="306.13" y="196.69" width="3.90" height="17.71" fill="#e8d7e8"/>
<rect x="311.42" y="196.00" width="3.90" height="18.40" fill="#e8d7e8"/>
<rect x="316.71" y="194.43" width="3.90" height="19.97" fill="#e8d7e8"/>
<rect x="322.00" y="195.51" width="3.90" height="18.89" fill="#e8d7e8"/>
<rect x="327.29" y="194.43" width="3.90" height="19.97" fill="#e8d7e8"/>
<line x1="210.60" y1="192.40" x2="210.60" y2="217.40" stroke="#8a8a8a" stroke-width="1.0"/>
<line x1="209.10" y1="202.30" x2="210.60" y2="202.30" stroke="#555" stroke-width="0.8"/>
<text x="186.89" y="205.90" font-size="10.53" fill="#000" textLength="20.93" lengthAdjust="spacingAndGlyphs">0.25</text>
<line x1="209.10" y1="214.40" x2="210.60" y2="214.40" stroke="#555" stroke-width="0.8"/>
<text x="186.69" y="218.00" font-size="10.53" fill="#000" textLength="20.93" lengthAdjust="spacingAndGlyphs">0.00</text>
<path d="M210.60,342.00 L217.04,339.73 L225.78,337.47 L231.64,334.86 L237.39,331.24 L243.26,326.93 L249.24,320.48 L256.60,312.89 L264.19,306.43 L271.55,298.96 L277.07,292.50 L281.78,286.04 L286.38,280.38 L292.02,274.94 L299.38,267.47 L304.44,262.37 L312.95,253.87 L319.39,245.38 L323.64,238.92 L325.37,232.58 L325.60,228.73 L210.60,342.00 Z" fill="#800080" fill-opacity="0.17" stroke="none"/>
<path d="M210.60,342.00 L217.04,339.73 L225.78,337.47 L231.64,334.86 L237.39,331.24 L243.26,326.93 L249.24,320.48 L256.60,312.89 L264.19,306.43 L271.55,298.96 L277.07,292.50 L281.78,286.04 L286.38,280.38 L292.02,274.94 L299.38,267.47 L304.44,262.37 L312.95,253.87 L319.39,245.38 L323.64,238.92 L325.37,232.58 L325.60,228.73" fill="none" stroke="#a848a8" stroke-width="0.9" stroke-linejoin="round"/>
<line x1="210.60" y1="342.00" x2="325.60" y2="228.73" stroke="#000" stroke-width="0.9" stroke-dasharray="1.5 1.4"/>
<rect x="210.60" y="217.40" width="127.20" height="124.60" fill="none" stroke="#8a8a8a" stroke-width="1.0"/>
<line x1="209.10" y1="342.00" x2="210.60" y2="342.00" stroke="#555" stroke-width="0.8"/>
<text x="193.18" y="345.60" font-size="10.53" fill="#000" textLength="14.95" lengthAdjust="spacingAndGlyphs">0.0</text>
<line x1="209.10" y1="319.35" x2="210.60" y2="319.35" stroke="#555" stroke-width="0.8"/>
<text x="193.49" y="322.95" font-size="10.53" fill="#000" textLength="14.95" lengthAdjust="spacingAndGlyphs">0.2</text>
<line x1="209.10" y1="296.69" x2="210.60" y2="296.69" stroke="#555" stroke-width="0.8"/>
<text x="193.08" y="300.29" font-size="10.53" fill="#000" textLength="14.95" lengthAdjust="spacingAndGlyphs">0.4</text>
<line x1="209.10" y1="274.04" x2="210.60" y2="274.04" stroke="#555" stroke-width="0.8"/>
<text x="193.14" y="277.64" font-size="10.53" fill="#000" textLength="14.95" lengthAdjust="spacingAndGlyphs">0.6</text>
<line x1="209.10" y1="251.38" x2="210.60" y2="251.38" stroke="#555" stroke-width="0.8"/>
<text x="193.19" y="254.98" font-size="10.53" fill="#000" textLength="14.95" lengthAdjust="spacingAndGlyphs">0.8</text>
<line x1="209.10" y1="228.73" x2="210.60" y2="228.73" stroke="#555" stroke-width="0.8"/>
<text x="193.18" y="232.33" font-size="10.53" fill="#000" textLength="14.95" lengthAdjust="spacingAndGlyphs">1.0</text>
<line x1="210.60" y1="342.00" x2="210.60" y2="343.50" stroke="#555" stroke-width="0.8"/>
<text x="203.13" y="352.70" font-size="10.53" fill="#000" textLength="14.95" lengthAdjust="spacingAndGlyphs">0.0</text>
<line x1="268.10" y1="342.00" x2="268.10" y2="343.50" stroke="#555" stroke-width="0.8"/>
<text x="260.73" y="352.70" font-size="10.53" fill="#000" textLength="14.95" lengthAdjust="spacingAndGlyphs">0.5</text>
<line x1="325.60" y1="342.00" x2="325.60" y2="343.50" stroke="#555" stroke-width="0.8"/>
<text x="317.92" y="352.70" font-size="10.53" fill="#000" textLength="14.95" lengthAdjust="spacingAndGlyphs">1.0</text>
<text x="214.23" y="362.30" font-size="9.41" fill="#000" textLength="119.91" lengthAdjust="spacingAndGlyphs">Cumulative population share</text>
<text x="216.18" y="373.90" font-size="9.41" fill="#000" textLength="115.56" lengthAdjust="spacingAndGlyphs">ranked by descending GDP</text>
<text transform="translate(188.10,337.20) rotate(-90)" x="-0.47" y="0" font-size="9.41" fill="#000" textLength="114.41" lengthAdjust="spacingAndGlyphs">Cumulative exposure share</text>
<rect x="214.40" y="221.30" width="75.1" height="24.4" rx="1.8" fill="#fff" fill-opacity="0.85" stroke="#dcdcdc" stroke-width="0.8"/>
<line x1="217.40" y1="227.30" x2="233.70" y2="227.30" stroke="#b25cb0" stroke-width="1.0"/>
<line x1="217.20" y1="238.50" x2="232.40" y2="238.50" stroke="#000" stroke-width="1.0" stroke-dasharray="1.9 1.2"/>
<text x="239.00" y="230.40" font-size="8.18" fill="#000" textLength="47.28" lengthAdjust="spacingAndGlyphs">Lorenz Curve</text>
<text x="239.01" y="241.50" font-size="8.18" fill="#000" textLength="39.27" lengthAdjust="spacingAndGlyphs">Equity Line</text>
<text x="220.78" y="259.50" font-size="10.53" fill="#000" textLength="52.95" lengthAdjust="spacingAndGlyphs">MGI = 0.21</text>
<text x="328.36" y="336.50" font-size="12.66" fill="#000" textLength="6.50" lengthAdjust="spacingAndGlyphs">F</text>
<text x="270.86" y="199.90" font-size="10.75" font-weight="bold" fill="#000" textLength="13.59" lengthAdjust="spacingAndGlyphs">FP</text>
<text x="293.49" y="203.70" font-size="10.53" fill="#000" textLength="37.59" lengthAdjust="spacingAndGlyphs" stroke="#fff" stroke-opacity="0.7" stroke-width="1.6" stroke-linejoin="round" paint-order="stroke">0.0174*</text>
<text x="298.07" y="213.90" font-size="10.53" fill="#000" textLength="17.44" lengthAdjust="spacingAndGlyphs" stroke="#fff" stroke-opacity="0.7" stroke-width="1.6" stroke-linejoin="round" paint-order="stroke">MK:</text>
<text x="326.38" y="213.90" font-size="10.53" fill="#000" textLength="4.70" lengthAdjust="spacingAndGlyphs" stroke="#fff" stroke-opacity="0.7" stroke-width="1.6" stroke-linejoin="round" paint-order="stroke">*</text>
<path d="M320.04,210.00 L322.44,207.10 L324.84,210.00 L322.94,209.30 L322.94,213.90 L321.94,213.90 L321.94,209.30 Z" fill="#000" stroke="#fff" stroke-opacity="0.7" stroke-width="1.6" stroke-linejoin="round" paint-order="stroke"/>
<text transform="translate(183.90,205.30) rotate(-90)" x="-9.08" y="0" font-size="10.53" fill="#000" textLength="18.17" lengthAdjust="spacingAndGlyphs">MGI</text>
<rect x="390.20" y="207.10" width="3.90" height="0.30" fill="#e8d7e8"/>
<rect x="395.45" y="207.40" width="3.90" height="8.20" fill="#e8d7e8"/>
<rect x="400.70" y="204.10" width="3.90" height="3.30" fill="#e8d7e8"/>
<rect x="405.95" y="207.40" width="3.90" height="4.30" fill="#e8d7e8"/>
<rect x="411.20" y="207.20" width="3.90" height="0.20" fill="#e8d7e8"/>
<rect x="416.45" y="207.40" width="3.90" height="1.30" fill="#e8d7e8"/>
<rect x="421.70" y="205.90" width="3.90" height="1.50" fill="#e8d7e8"/>
<rect x="426.95" y="204.90" width="3.90" height="2.50" fill="#e8d7e8"/>
<rect x="432.20" y="207.40" width="3.90" height="1.80" fill="#e8d7e8"/>
<rect x="437.45" y="207.40" width="3.90" height="4.90" fill="#e8d7e8"/>
<rect x="442.70" y="206.20" width="3.90" height="1.20" fill="#e8d7e8"/>
<rect x="447.95" y="201.80" width="3.90" height="5.60" fill="#e8d7e8"/>
<rect x="453.20" y="207.20" width="3.90" height="0.20" fill="#e8d7e8"/>
<rect x="458.45" y="204.40" width="3.90" height="3.00" fill="#e8d7e8"/>
<rect x="463.70" y="195.10" width="3.90" height="12.30" fill="#e8d7e8"/>
<rect x="468.95" y="195.70" width="3.90" height="11.70" fill="#e8d7e8"/>
<rect x="474.20" y="195.40" width="3.90" height="12.00" fill="#e8d7e8"/>
<rect x="479.45" y="195.40" width="3.90" height="12.00" fill="#e8d7e8"/>
<rect x="484.70" y="194.90" width="3.90" height="12.50" fill="#e8d7e8"/>
<rect x="489.95" y="194.90" width="3.90" height="12.50" fill="#e8d7e8"/>
<rect x="495.20" y="194.40" width="3.90" height="13.00" fill="#e8d7e8"/>
<rect x="500.45" y="194.00" width="3.90" height="13.40" fill="#e8d7e8"/>
<line x1="383.70" y1="192.40" x2="383.70" y2="217.50" stroke="#8a8a8a" stroke-width="1.0"/>
<line x1="382.20" y1="197.60" x2="383.70" y2="197.60" stroke="#555" stroke-width="0.8"/>
<text x="359.99" y="201.20" font-size="10.53" fill="#000" textLength="20.93" lengthAdjust="spacingAndGlyphs">0.25</text>
<line x1="382.20" y1="207.40" x2="383.70" y2="207.40" stroke="#555" stroke-width="0.8"/>
<text x="359.79" y="211.00" font-size="10.53" fill="#000" textLength="20.93" lengthAdjust="spacingAndGlyphs">0.00</text>
<path d="M383.70,342.00 L390.85,339.17 L398.93,336.57 L403.89,332.61 L408.73,328.64 L415.77,321.74 L423.62,313.70 L431.00,304.99 L438.27,296.16 L444.84,288.24 L451.42,280.20 L458.11,272.17 L464.45,263.34 L471.72,257.68 L479.68,252.59 L487.53,247.49 L493.53,243.31 L496.53,239.57 L497.91,234.48 L499.06,228.82 L383.70,342.00 Z" fill="#800080" fill-opacity="0.17" stroke="none"/>
<path d="M383.70,342.00 L390.85,339.17 L398.93,336.57 L403.89,332.61 L408.73,328.64 L415.77,321.74 L423.62,313.70 L431.00,304.99 L438.27,296.16 L444.84,288.24 L451.42,280.20 L458.11,272.17 L464.45,263.34 L471.72,257.68 L479.68,252.59 L487.53,247.49 L493.53,243.31 L496.53,239.57 L497.91,234.48 L499.06,228.82" fill="none" stroke="#a848a8" stroke-width="0.9" stroke-linejoin="round"/>
<line x1="383.70" y1="342.00" x2="499.06" y2="228.82" stroke="#000" stroke-width="0.9" stroke-dasharray="1.5 1.4"/>
<rect x="383.70" y="217.50" width="126.90" height="124.50" fill="none" stroke="#8a8a8a" stroke-width="1.0"/>
<line x1="382.20" y1="342.00" x2="383.70" y2="342.00" stroke="#555" stroke-width="0.8"/>
<text x="366.28" y="345.60" font-size="10.53" fill="#000" textLength="14.95" lengthAdjust="spacingAndGlyphs">0.0</text>
<line x1="382.20" y1="319.36" x2="383.70" y2="319.36" stroke="#555" stroke-width="0.8"/>
<text x="366.59" y="322.96" font-size="10.53" fill="#000" textLength="14.95" lengthAdjust="spacingAndGlyphs">0.2</text>
<line x1="382.20" y1="296.73" x2="383.70" y2="296.73" stroke="#555" stroke-width="0.8"/>
<text x="366.18" y="300.33" font-size="10.53" fill="#000" textLength="14.95" lengthAdjust="spacingAndGlyphs">0.4</text>
<line x1="382.20" y1="274.09" x2="383.70" y2="274.09" stroke="#555" stroke-width="0.8"/>
<text x="366.24" y="277.69" font-size="10.53" fill="#000" textLength="14.95" lengthAdjust="spacingAndGlyphs">0.6</text>
<line x1="382.20" y1="251.45" x2="383.70" y2="251.45" stroke="#555" stroke-width="0.8"/>
<text x="366.29" y="255.05" font-size="10.53" fill="#000" textLength="14.95" lengthAdjust="spacingAndGlyphs">0.8</text>
<line x1="382.20" y1="228.82" x2="383.70" y2="228.82" stroke="#555" stroke-width="0.8"/>
<text x="366.28" y="232.42" font-size="10.53" fill="#000" textLength="14.95" lengthAdjust="spacingAndGlyphs">1.0</text>
<line x1="383.70" y1="342.00" x2="383.70" y2="343.50" stroke="#555" stroke-width="0.8"/>
<text x="376.23" y="352.70" font-size="10.53" fill="#000" textLength="14.95" lengthAdjust="spacingAndGlyphs">0.0</text>
<line x1="441.38" y1="342.00" x2="441.38" y2="343.50" stroke="#555" stroke-width="0.8"/>
<text x="434.01" y="352.70" font-size="10.53" fill="#000" textLength="14.95" lengthAdjust="spacingAndGlyphs">0.5</text>
<line x1="499.06" y1="342.00" x2="499.06" y2="343.50" stroke="#555" stroke-width="0.8"/>
<text x="491.38" y="352.70" font-size="10.53" fill="#000" textLength="14.95" lengthAdjust="spacingAndGlyphs">1.0</text>
<text x="383.23" y="362.30" font-size="9.41" fill="#000" textLength="119.91" lengthAdjust="spacingAndGlyphs">Cumulative population share</text>
<text x="385.18" y="373.90" font-size="9.41" fill="#000" textLength="115.56" lengthAdjust="spacingAndGlyphs">ranked by descending GDP</text>
<text transform="translate(364.40,337.20) rotate(-90)" x="-0.47" y="0" font-size="9.41" fill="#000" textLength="114.41" lengthAdjust="spacingAndGlyphs">Cumulative exposure share</text>
<rect x="387.40" y="221.30" width="75.1" height="24.4" rx="1.8" fill="#fff" fill-opacity="0.85" stroke="#dcdcdc" stroke-width="0.8"/>
<line x1="390.40" y1="227.30" x2="406.70" y2="227.30" stroke="#b25cb0" stroke-width="1.0"/>
<line x1="390.20" y1="238.50" x2="405.40" y2="238.50" stroke="#000" stroke-width="1.0" stroke-dasharray="1.9 1.2"/>
<text x="412.00" y="230.40" font-size="8.18" fill="#000" textLength="47.28" lengthAdjust="spacingAndGlyphs">Lorenz Curve</text>
<text x="412.01" y="241.50" font-size="8.18" fill="#000" textLength="39.27" lengthAdjust="spacingAndGlyphs">Equity Line</text>
<text x="393.78" y="259.50" font-size="10.53" fill="#000" textLength="52.95" lengthAdjust="spacingAndGlyphs">MGI = 0.10</text>
<text x="496.37" y="336.60" font-size="12.66" fill="#000" textLength="8.76" lengthAdjust="spacingAndGlyphs">G</text>
<text x="435.74" y="199.80" font-size="10.75" font-weight="bold" fill="#000" textLength="21.63" lengthAdjust="spacingAndGlyphs">HFP</text>
<text x="467.29" y="202.80" font-size="10.53" fill="#000" textLength="37.59" lengthAdjust="spacingAndGlyphs" stroke="#fff" stroke-opacity="0.7" stroke-width="1.6" stroke-linejoin="round" paint-order="stroke">0.0183*</text>
<text x="471.87" y="213.70" font-size="10.53" fill="#000" textLength="17.44" lengthAdjust="spacingAndGlyphs" stroke="#fff" stroke-opacity="0.7" stroke-width="1.6" stroke-linejoin="round" paint-order="stroke">MK:</text>
<text x="500.18" y="213.70" font-size="10.53" fill="#000" textLength="4.70" lengthAdjust="spacingAndGlyphs" stroke="#fff" stroke-opacity="0.7" stroke-width="1.6" stroke-linejoin="round" paint-order="stroke">*</text>
<path d="M493.84,209.80 L496.24,206.90 L498.64,209.80 L496.74,209.10 L496.74,213.70 L495.74,213.70 L495.74,209.10 Z" fill="#000" stroke="#fff" stroke-opacity="0.7" stroke-width="1.6" stroke-linejoin="round" paint-order="stroke"/>
<text transform="translate(357.50,205.60) rotate(-90)" x="-9.08" y="0" font-size="10.53" fill="#000" textLength="18.17" lengthAdjust="spacingAndGlyphs">MGI</text>
<rect x="529.65" y="217.00" width="19.93" height="19.75" fill="#f4f5f5" stroke="#fff" stroke-width="0.6"/>
<rect x="549.58" y="217.00" width="19.93" height="19.75" fill="#c8ece3" stroke="#fff" stroke-width="0.6"/>
<rect x="569.51" y="217.00" width="19.93" height="19.75" fill="#f0f4f4" stroke="#fff" stroke-width="0.6"/>
<rect x="589.44" y="217.00" width="19.93" height="19.75" fill="#d1efe8" stroke="#fff" stroke-width="0.6"/>
<rect x="609.37" y="217.00" width="19.93" height="19.75" fill="#f4f5f5" stroke="#fff" stroke-width="0.6"/>
<rect x="629.30" y="217.00" width="19.93" height="19.75" fill="#d5efe9" stroke="#fff" stroke-width="0.6"/>
<rect x="649.23" y="217.00" width="19.93" height="19.75" fill="#c8ece3" stroke="#fff" stroke-width="0.6"/>
<rect x="529.65" y="236.75" width="19.93" height="19.75" fill="#e8f3f0" stroke="#fff" stroke-width="0.6"/>
<rect x="549.58" y="236.75" width="19.93" height="19.75" fill="#7a4a8e" stroke="#fff" stroke-width="0.6"/>
<rect x="569.51" y="236.75" width="19.93" height="19.75" fill="#f4f5f5" stroke="#fff" stroke-width="0.6"/>
<rect x="589.44" y="236.75" width="19.93" height="19.75" fill="#815395" stroke="#fff" stroke-width="0.6"/>
<rect x="609.37" y="236.75" width="19.93" height="19.75" fill="#f4f5f5" stroke="#fff" stroke-width="0.6"/>
<rect x="629.30" y="236.75" width="19.93" height="19.75" fill="#66347a" stroke="#fff" stroke-width="0.6"/>
<rect x="649.23" y="236.75" width="19.93" height="19.75" fill="#7a4a8e" stroke="#fff" stroke-width="0.6"/>
<rect x="529.65" y="256.50" width="19.93" height="19.75" fill="#f0f4f4" stroke="#fff" stroke-width="0.6"/>
<rect x="549.58" y="256.50" width="19.93" height="19.75" fill="#b294c6" stroke="#fff" stroke-width="0.6"/>
<rect x="569.51" y="256.50" width="19.93" height="19.75" fill="#f2f2f4" stroke="#fff" stroke-width="0.6"/>
<rect x="589.44" y="256.50" width="19.93" height="19.75" fill="#a078b4" stroke="#fff" stroke-width="0.6"/>
<rect x="609.37" y="256.50" width="19.93" height="19.75" fill="#e8f3f0" stroke="#fff" stroke-width="0.6"/>
<rect x="629.30" y="256.50" width="19.93" height="19.75" fill="#a078b4" stroke="#fff" stroke-width="0.6"/>
<rect x="649.23" y="256.50" width="19.93" height="19.75" fill="#815395" stroke="#fff" stroke-width="0.6"/>
<rect x="529.65" y="276.25" width="19.93" height="19.75" fill="#e8f3f0" stroke="#fff" stroke-width="0.6"/>
<rect x="549.58" y="276.25" width="19.93" height="19.75" fill="#d2c3e1" stroke="#fff" stroke-width="0.6"/>
<rect x="569.51" y="276.25" width="19.93" height="19.75" fill="#f4f5f5" stroke="#fff" stroke-width="0.6"/>
<rect x="589.44" y="276.25" width="19.93" height="19.75" fill="#cfbfdf" stroke="#fff" stroke-width="0.6"/>
<rect x="609.37" y="276.25" width="19.93" height="19.75" fill="#cdeee6" stroke="#fff" stroke-width="0.6"/>
<rect x="629.30" y="276.25" width="19.93" height="19.75" fill="#ccbbdd" stroke="#fff" stroke-width="0.6"/>
<rect x="649.23" y="276.25" width="19.93" height="19.75" fill="#ccbbdd" stroke="#fff" stroke-width="0.6"/>
<rect x="529.65" y="296.00" width="19.93" height="19.75" fill="#e8f3f0" stroke="#fff" stroke-width="0.6"/>
<rect x="549.58" y="296.00" width="19.93" height="19.75" fill="#e1d7eb" stroke="#fff" stroke-width="0.6"/>
<rect x="569.51" y="296.00" width="19.93" height="19.75" fill="#f4f5f5" stroke="#fff" stroke-width="0.6"/>
<rect x="589.44" y="296.00" width="19.93" height="19.75" fill="#f0eff3" stroke="#fff" stroke-width="0.6"/>
<rect x="609.37" y="296.00" width="19.93" height="19.75" fill="#f4f5f5" stroke="#fff" stroke-width="0.6"/>
<rect x="629.30" y="296.00" width="19.93" height="19.75" fill="#c3afd7" stroke="#fff" stroke-width="0.6"/>
<rect x="649.23" y="296.00" width="19.93" height="19.75" fill="#eae6f0" stroke="#fff" stroke-width="0.6"/>
<rect x="529.65" y="315.75" width="19.93" height="19.75" fill="#e0f2ee" stroke="#fff" stroke-width="0.6"/>
<rect x="549.58" y="315.75" width="19.93" height="19.75" fill="#cdeee6" stroke="#fff" stroke-width="0.6"/>
<rect x="569.51" y="315.75" width="19.93" height="19.75" fill="#f0f4f4" stroke="#fff" stroke-width="0.6"/>
<rect x="589.44" y="315.75" width="19.93" height="19.75" fill="#ddf1ec" stroke="#fff" stroke-width="0.6"/>
<rect x="609.37" y="315.75" width="19.93" height="19.75" fill="#e0f2ee" stroke="#fff" stroke-width="0.6"/>
<rect x="629.30" y="315.75" width="19.93" height="19.75" fill="#ecf4f2" stroke="#fff" stroke-width="0.6"/>
<rect x="649.23" y="315.75" width="19.93" height="19.75" fill="#bce7dd" stroke="#fff" stroke-width="0.6"/>
<text x="532.38" y="229.28" font-size="7.28" fill="#262626" textLength="14.47" lengthAdjust="spacingAndGlyphs">0.00</text>
<text x="551.28" y="229.28" font-size="7.28" fill="#262626" textLength="16.82" lengthAdjust="spacingAndGlyphs">-0.11</text>
<text x="571.21" y="229.28" font-size="7.28" fill="#262626" textLength="16.82" lengthAdjust="spacingAndGlyphs">-0.01</text>
<text x="591.07" y="229.28" font-size="7.28" fill="#262626" textLength="16.82" lengthAdjust="spacingAndGlyphs">-0.09</text>
<text x="610.98" y="229.28" font-size="7.28" fill="#262626" textLength="16.82" lengthAdjust="spacingAndGlyphs">-0.00</text>
<text x="630.92" y="229.28" font-size="7.28" fill="#262626" textLength="16.82" lengthAdjust="spacingAndGlyphs">-0.08</text>
<text x="650.93" y="229.28" font-size="7.28" fill="#262626" textLength="16.82" lengthAdjust="spacingAndGlyphs">-0.11</text>
<text x="531.31" y="249.03" font-size="7.28" fill="#262626" textLength="16.82" lengthAdjust="spacingAndGlyphs">-0.03</text>
<text x="552.31" y="249.03" font-size="7.28" fill="#fff" textLength="14.47" lengthAdjust="spacingAndGlyphs">0.40</text>
<text x="571.12" y="249.03" font-size="7.28" fill="#262626" textLength="16.82" lengthAdjust="spacingAndGlyphs">-0.00</text>
<text x="592.18" y="249.03" font-size="7.28" fill="#fff" textLength="14.47" lengthAdjust="spacingAndGlyphs">0.38</text>
<text x="612.10" y="249.03" font-size="7.28" fill="#262626" textLength="14.47" lengthAdjust="spacingAndGlyphs">0.00</text>
<text x="632.10" y="249.03" font-size="7.28" fill="#fff" textLength="14.47" lengthAdjust="spacingAndGlyphs">0.45</text>
<text x="651.96" y="249.03" font-size="7.28" fill="#fff" textLength="14.47" lengthAdjust="spacingAndGlyphs">0.40</text>
<text x="531.35" y="268.77" font-size="7.28" fill="#262626" textLength="16.82" lengthAdjust="spacingAndGlyphs">-0.01</text>
<text x="552.38" y="268.77" font-size="7.28" fill="#fff" textLength="14.47" lengthAdjust="spacingAndGlyphs">0.25</text>
<text x="572.32" y="268.77" font-size="7.28" fill="#262626" textLength="14.47" lengthAdjust="spacingAndGlyphs">0.01</text>
<text x="592.17" y="268.77" font-size="7.28" fill="#fff" textLength="14.47" lengthAdjust="spacingAndGlyphs">0.30</text>
<text x="611.03" y="268.77" font-size="7.28" fill="#262626" textLength="16.82" lengthAdjust="spacingAndGlyphs">-0.03</text>
<text x="632.03" y="268.77" font-size="7.28" fill="#fff" textLength="14.47" lengthAdjust="spacingAndGlyphs">0.30</text>
<text x="651.97" y="268.77" font-size="7.28" fill="#fff" textLength="14.47" lengthAdjust="spacingAndGlyphs">0.38</text>
<text x="531.31" y="288.52" font-size="7.28" fill="#262626" textLength="16.82" lengthAdjust="spacingAndGlyphs">-0.03</text>
<text x="552.38" y="288.52" font-size="7.28" fill="#262626" textLength="14.47" lengthAdjust="spacingAndGlyphs">0.15</text>
<text x="572.24" y="288.52" font-size="7.28" fill="#262626" textLength="14.47" lengthAdjust="spacingAndGlyphs">0.00</text>
<text x="592.16" y="288.52" font-size="7.28" fill="#262626" textLength="14.47" lengthAdjust="spacingAndGlyphs">0.16</text>
<text x="610.98" y="288.52" font-size="7.28" fill="#262626" textLength="16.82" lengthAdjust="spacingAndGlyphs">-0.10</text>
<text x="632.09" y="288.52" font-size="7.28" fill="#262626" textLength="14.47" lengthAdjust="spacingAndGlyphs">0.17</text>
<text x="652.02" y="288.52" font-size="7.28" fill="#262626" textLength="14.47" lengthAdjust="spacingAndGlyphs">0.17</text>
<text x="531.31" y="308.27" font-size="7.28" fill="#262626" textLength="16.82" lengthAdjust="spacingAndGlyphs">-0.03</text>
<text x="552.31" y="308.27" font-size="7.28" fill="#262626" textLength="14.47" lengthAdjust="spacingAndGlyphs">0.10</text>
<text x="572.24" y="308.27" font-size="7.28" fill="#262626" textLength="14.47" lengthAdjust="spacingAndGlyphs">0.00</text>
<text x="592.28" y="308.27" font-size="7.28" fill="#262626" textLength="14.47" lengthAdjust="spacingAndGlyphs">0.02</text>
<text x="612.10" y="308.27" font-size="7.28" fill="#262626" textLength="14.47" lengthAdjust="spacingAndGlyphs">0.00</text>
<text x="632.03" y="308.27" font-size="7.28" fill="#fff" textLength="14.47" lengthAdjust="spacingAndGlyphs">0.20</text>
<text x="652.03" y="308.27" font-size="7.28" fill="#262626" textLength="14.47" lengthAdjust="spacingAndGlyphs">0.05</text>
<text x="531.33" y="328.02" font-size="7.28" fill="#262626" textLength="16.82" lengthAdjust="spacingAndGlyphs">-0.05</text>
<text x="551.19" y="328.02" font-size="7.28" fill="#262626" textLength="16.82" lengthAdjust="spacingAndGlyphs">-0.10</text>
<text x="571.21" y="328.02" font-size="7.28" fill="#262626" textLength="16.82" lengthAdjust="spacingAndGlyphs">-0.01</text>
<text x="591.04" y="328.02" font-size="7.28" fill="#262626" textLength="16.82" lengthAdjust="spacingAndGlyphs">-0.06</text>
<text x="611.05" y="328.02" font-size="7.28" fill="#262626" textLength="16.82" lengthAdjust="spacingAndGlyphs">-0.05</text>
<text x="631.02" y="328.02" font-size="7.28" fill="#262626" textLength="16.82" lengthAdjust="spacingAndGlyphs">-0.02</text>
<text x="650.89" y="328.02" font-size="7.28" fill="#262626" textLength="16.82" lengthAdjust="spacingAndGlyphs">-0.13</text>
<line x1="527.65" y1="226.88" x2="529.45" y2="226.88" stroke="#444" stroke-width="0.8"/>
<text transform="translate(525.45,227.28) rotate(-90)" x="-4.64" y="0" font-size="8.18" fill="#000" textLength="9.63" lengthAdjust="spacingAndGlyphs">AS</text>
<line x1="527.65" y1="246.62" x2="529.45" y2="246.62" stroke="#444" stroke-width="0.8"/>
<text transform="translate(525.45,247.03) rotate(-90)" x="-5.56" y="0" font-size="8.18" fill="#000" textLength="10.45" lengthAdjust="spacingAndGlyphs">NA</text>
<line x1="527.65" y1="266.38" x2="529.45" y2="266.38" stroke="#444" stroke-width="0.8"/>
<text transform="translate(525.45,266.77) rotate(-90)" x="-5.02" y="0" font-size="8.18" fill="#000" textLength="9.96" lengthAdjust="spacingAndGlyphs">EU</text>
<line x1="527.65" y1="286.12" x2="529.45" y2="286.12" stroke="#444" stroke-width="0.8"/>
<text transform="translate(525.45,286.52) rotate(-90)" x="-4.41" y="0" font-size="8.18" fill="#000" textLength="9.19" lengthAdjust="spacingAndGlyphs">AF</text>
<line x1="527.65" y1="305.88" x2="529.45" y2="305.88" stroke="#444" stroke-width="0.8"/>
<text transform="translate(525.45,306.27) rotate(-90)" x="-5.02" y="0" font-size="8.18" fill="#000" textLength="9.63" lengthAdjust="spacingAndGlyphs">SA</text>
<line x1="527.65" y1="325.62" x2="529.45" y2="325.62" stroke="#444" stroke-width="0.8"/>
<text transform="translate(525.45,326.02) rotate(-90)" x="-5.43" y="0" font-size="8.18" fill="#000" textLength="10.84" lengthAdjust="spacingAndGlyphs">OC</text>
<line x1="539.62" y1="215.00" x2="539.62" y2="216.80" stroke="#444" stroke-width="0.8"/>
<text transform="translate(540.06,213.40) rotate(-45)" x="-0.71" y="0" font-size="8.06" fill="#000" textLength="5.41" lengthAdjust="spacingAndGlyphs">H</text>
<line x1="559.54" y1="215.00" x2="559.54" y2="216.80" stroke="#444" stroke-width="0.8"/>
<text transform="translate(560.33,213.40) rotate(-45)" x="-0.71" y="0" font-size="8.06" fill="#000" textLength="4.14" lengthAdjust="spacingAndGlyphs">F</text>
<line x1="579.48" y1="215.00" x2="579.48" y2="216.80" stroke="#444" stroke-width="0.8"/>
<text transform="translate(580.13,213.40) rotate(-45)" x="-0.71" y="0" font-size="8.06" fill="#000" textLength="4.34" lengthAdjust="spacingAndGlyphs">P</text>
<line x1="599.40" y1="215.00" x2="599.40" y2="216.80" stroke="#444" stroke-width="0.8"/>
<text transform="translate(598.28,213.40) rotate(-45)" x="-0.71" y="0" font-size="8.06" fill="#000" textLength="9.56" lengthAdjust="spacingAndGlyphs">HF</text>
<line x1="619.34" y1="215.00" x2="619.34" y2="216.80" stroke="#444" stroke-width="0.8"/>
<text transform="translate(618.08,213.40) rotate(-45)" x="-0.71" y="0" font-size="8.06" fill="#000" textLength="9.76" lengthAdjust="spacingAndGlyphs">HP</text>
<line x1="639.26" y1="215.00" x2="639.26" y2="216.80" stroke="#444" stroke-width="0.8"/>
<text transform="translate(638.46,213.40) rotate(-45)" x="-0.71" y="0" font-size="8.06" fill="#000" textLength="8.48" lengthAdjust="spacingAndGlyphs">FP</text>
<line x1="659.19" y1="215.00" x2="659.19" y2="216.80" stroke="#444" stroke-width="0.8"/>
<text transform="translate(656.47,213.40) rotate(-45)" x="-0.71" y="0" font-size="8.06" fill="#000" textLength="13.90" lengthAdjust="spacingAndGlyphs">HFP</text>
<line x1="676.70" y1="215.40" x2="676.70" y2="217.00" stroke="#8a8a8a" stroke-width="0.6"/>
<text transform="translate(679.70,216.80) rotate(-90)" x="0.02" y="0" font-size="8.06" fill="#000" textLength="23.52" lengthAdjust="spacingAndGlyphs">TOTAL</text>
<circle cx="676.7" cy="227.78" r="0.8" fill="#d6d6d6"/>
<circle cx="676.7" cy="247.53" r="4.0" fill="#d6d6d6"/>
<circle cx="676.7" cy="267.27" r="3.5" fill="#d6d6d6"/>
<circle cx="676.7" cy="287.02" r="2.7" fill="#d6d6d6"/>
<circle cx="676.7" cy="306.77" r="2.7" fill="#d6d6d6"/>
<circle cx="676.7" cy="326.52" r="0.8" fill="#d6d6d6"/>
<defs><linearGradient id="cb" x1="0" x2="1" y1="0" y2="0"><stop offset="0.0000" stop-color="#346e5c"/><stop offset="0.0111" stop-color="#3a7664"/><stop offset="0.1667" stop-color="#64aa9b"/><stop offset="0.2778" stop-color="#96d8c8"/><stop offset="0.3889" stop-color="#cdeee6"/><stop offset="0.5000" stop-color="#f4f5f5"/><stop offset="0.6111" stop-color="#e1d7eb"/><stop offset="0.7222" stop-color="#c3afd7"/><stop offset="0.8333" stop-color="#a078b4"/><stop offset="0.9778" stop-color="#6e3c82"/><stop offset="1.0000" stop-color="#66347a"/></linearGradient></defs>
<rect x="532.00" y="339.00" width="135.00" height="6.70" fill="url(#cb)"/>
<line x1="539.50" y1="345.70" x2="539.50" y2="347.00" stroke="#8a8a8a" stroke-width="0.6"/>
<text x="531.57" y="353.50" font-size="7.17" fill="#000" textLength="15.54" lengthAdjust="spacingAndGlyphs">−0.4</text>
<line x1="569.50" y1="345.70" x2="569.50" y2="347.00" stroke="#8a8a8a" stroke-width="0.6"/>
<text x="561.71" y="353.50" font-size="7.17" fill="#000" textLength="15.54" lengthAdjust="spacingAndGlyphs">−0.2</text>
<line x1="599.50" y1="345.70" x2="599.50" y2="347.00" stroke="#8a8a8a" stroke-width="0.6"/>
<text x="594.41" y="353.50" font-size="7.17" fill="#000" textLength="10.18" lengthAdjust="spacingAndGlyphs">0.0</text>
<line x1="629.50" y1="345.70" x2="629.50" y2="347.00" stroke="#8a8a8a" stroke-width="0.6"/>
<text x="624.52" y="353.50" font-size="7.17" fill="#000" textLength="10.18" lengthAdjust="spacingAndGlyphs">0.2</text>
<line x1="659.50" y1="345.70" x2="659.50" y2="347.00" stroke="#8a8a8a" stroke-width="0.6"/>
<text x="654.38" y="353.50" font-size="7.17" fill="#000" textLength="10.18" lengthAdjust="spacingAndGlyphs">0.4</text>
<text x="584.33" y="361.00" font-size="6.61" fill="#000" textLength="29.81" lengthAdjust="spacingAndGlyphs">Gini Index</text>
<text x="673.79" y="345.80" font-size="12.54" fill="#000" textLength="8.42" lengthAdjust="spacingAndGlyphs">H</text>
</svg></body></html>
